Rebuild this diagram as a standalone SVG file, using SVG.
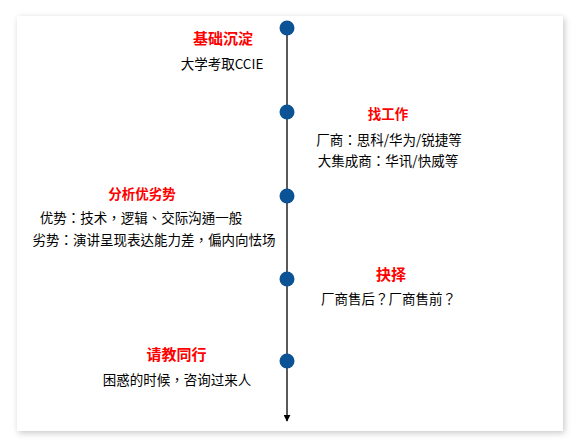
<svg xmlns="http://www.w3.org/2000/svg" width="575" height="443" viewBox="0 0 575 443">
<defs>
<filter id="sh" x="-5%" y="-5%" width="110%" height="112%">
<feDropShadow dx="1.5" dy="2" stdDeviation="3" flood-color="#000" flood-opacity="0.22"/>
</filter>
<marker id="arr" viewBox="0 0 10 10" refX="9" refY="5" markerWidth="7" markerHeight="7" orient="auto" markerUnits="userSpaceOnUse">
<path d="M0,0 L10,5 L0,10 z" fill="#000"/>
</marker>
<style>
.t{font-family:"Microsoft YaHei","Noto Sans CJK SC",sans-serif;font-weight:bold;fill:#FF0000;text-anchor:middle}
.b{font-family:"Noto Sans CJK TC",sans-serif;font-size:13.5px;fill:#000;text-anchor:middle;text-spacing-trim:space-all}
.dot{fill:#0B5394}
</style>
</defs>
<rect x="0" y="0" width="575" height="443" fill="#fff"/>
<rect x="17" y="16" width="546" height="415" fill="#fff" filter="url(#sh)"/>
<g id="connectors">
<line x1="287" y1="28" x2="287" y2="421" stroke="#000" stroke-width="1.3" marker-end="url(#arr)"/>
</g>
<g id="node1">
<circle class="dot" cx="287" cy="28" r="7.5"/>
<text class="t" x="223" y="44" font-size="15">基础沉淀</text>
<text class="b" x="222" y="69">大学考取CCIE</text>
</g>
<g id="node2">
<circle class="dot" cx="287" cy="112" r="7.5"/>
<text class="t" x="388" y="119" font-size="13.5">找工作</text>
<text class="b" x="389" y="145">厂商：思科/华为/锐捷等</text>
<text class="b" x="388" y="166">大集成商：华讯/快威等</text>
</g>
<g id="node3">
<circle class="dot" cx="287" cy="196" r="7.5"/>
<text class="t" x="142" y="199" font-size="13.5">分析优劣势</text>
<text class="b" x="141" y="223">优势：技术，逻辑、交际沟通一般</text>
<text class="b" x="154" y="245">劣势：演讲呈现表达能力差，偏内向怯场</text>
</g>
<g id="node4">
<circle class="dot" cx="287" cy="279" r="7.5"/>
<text class="t" x="391" y="280" font-size="15">抉择</text>
<text class="b" x="388.5" y="304">厂商售后？厂商售前？</text>
</g>
<g id="node5">
<circle class="dot" cx="287" cy="361" r="7.5"/>
<text class="t" x="176.5" y="360" font-size="15">请教同行</text>
<text class="b" x="177" y="385">困惑的时候，咨询过来人</text>
</g>
</svg>
